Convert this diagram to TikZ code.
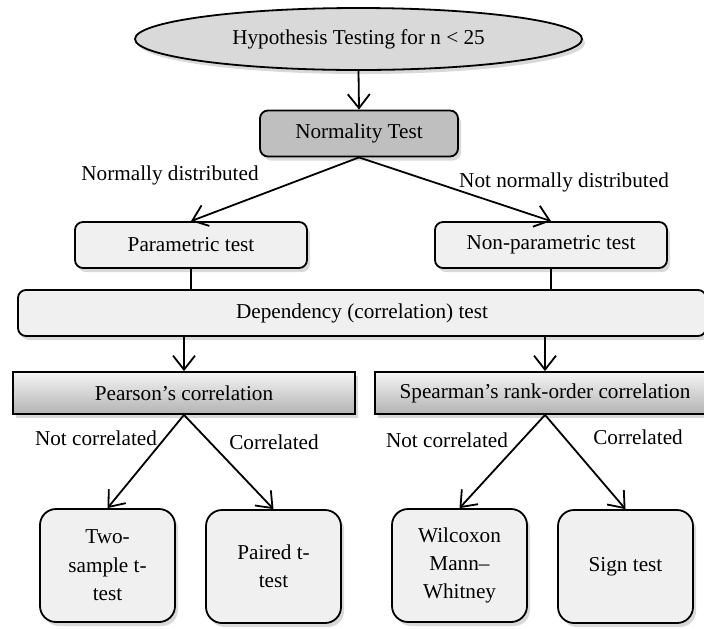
\documentclass[tikz,border=0pt]{standalone}
\usepackage{fontspec}
\setmainfont{Liberation Serif}
\usepackage{tikz}
\usetikzlibrary{shapes.geometric,shadows,arrows.meta}
\tikzstyle{every node}=[font=\fontsize{10.6}{14.2}\selectfont,align=center,inner sep=0pt]
\tikzstyle{soft}=[drop shadow={shadow xshift=1.5pt,shadow yshift=-2pt,opacity=0.3}]
\tikzstyle{oval}=[ellipse,draw=black,line width=0.9pt,fill=black!15,soft,minimum width=223.5pt,minimum height=31pt]
\tikzstyle{test}=[rectangle,draw=black,line width=0.9pt,rounded corners=4pt,fill=black!6,soft,minimum height=23pt]
\tikzstyle{corr}=[rectangle,draw=black,line width=0.9pt,top color=black!4,bottom color=black!30,soft,minimum height=21pt]
\tikzstyle{leaf}=[test,rounded corners=8pt,minimum width=67.5pt,minimum height=56.5pt]
\tikzstyle{branch}=[draw=black,line width=0.9pt,-{Straight Barb[length=7pt,width=11pt]}]
\tikzstyle{link}=[draw=black,line width=0.9pt]

\begin{document}
\begin{tikzpicture}[x=0.5pt,y=-0.5pt]
	\useasboundingbox (0,0) rectangle (704,628);
	\node[oval] (hyp) at (358.5,39) {Hypothesis Testing for n < 25};
	\node[test,fill=black!25,minimum width=99pt] (norm) at (359,133.5) {Normality Test};
	\node[test,minimum width=116pt] (para) at (191,245) {Parametric test};
	\node[test,minimum width=116pt] (nonpara) at (551,245) {Non-parametric test};
	\node[test,minimum width=344pt] (dep) at (362,313) {Dependency (correlation) test};
	\node[corr,minimum width=171pt] (pear) at (184,393) {Pearson's correlation};
	\node[corr,minimum width=170pt] (spear) at (545,393) {Spearman's rank-order correlation};
	\node[leaf] (two) at (107.5,565.5) {Two-\\sample t-\\test};
	\node[leaf] (paired) at (273.5,566.5) {Paired t-\\test};
	\node[leaf] (wil) at (459.5,565.5) {Wilcoxon\\Mann--\\Whitney};
	\node[leaf] (sign) at (625.5,566.5) {Sign test};

	\node (normal) at (170,175) {Normally distributed};
	\node (notnormal) at (564,182) {Not normally distributed};
	\node (pearnot) at (96,438) {Not correlated};
	\node (pearyes) at (274,442) {Correlated};
	\node (spearnot) at (447,440) {Not correlated};
	\node (spearyes) at (638,437) {Correlated};

	\draw[branch] (hyp.south) -- (norm.north);
	\draw[branch] (norm.south) -- (para.north);
	\draw[branch] (norm.south) -- (nonpara.north);
	\draw[link] (para.south) -- (para.south |- dep.north);
	\draw[link] (nonpara.south) -- (nonpara.south |- dep.north);
	\draw[branch] (pear.north |- dep.south) -- (pear.north);
	\draw[branch] (spear.north |- dep.south) -- (spear.north);
	\draw[branch] (pear.south) -- (two.north);
	\draw[branch] (pear.south) -- (paired.north);
	\draw[branch] (spear.south) -- (wil.north);
	\draw[branch] (spear.south) -- (sign.north);
\end{tikzpicture}
\end{document}
